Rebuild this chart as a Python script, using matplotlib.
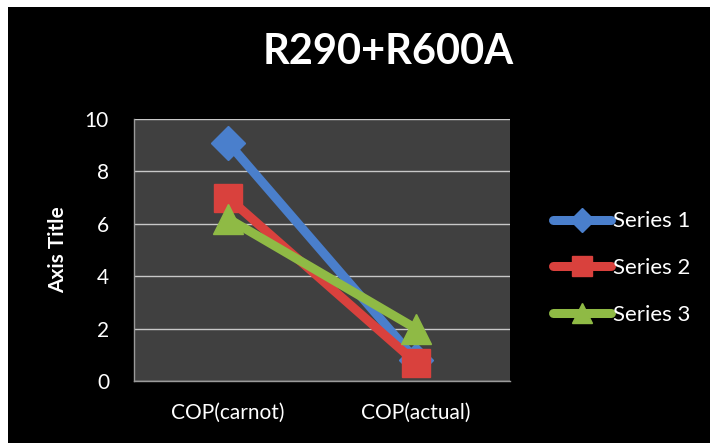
import matplotlib
matplotlib.use("Agg")
import matplotlib.pyplot as plt
from matplotlib.patches import Rectangle
from matplotlib.lines import Line2D

categories = ["COP(carnot)", "COP(actual)"]
series_names = ["Series 1", "Series 2", "Series 3"]
series1 = [9.1, 0.8]
series2 = [7.0, 0.7]
series3 = [6.2, 2.0]
title = "R290+R600A"
y_label = "Axis Title"

plt.rcParams['font.family'] = ['Lato', 'DejaVu Sans']

W, H = 710, 443
fig = plt.figure(figsize=(W / 100, H / 100), dpi=100, facecolor="white")
bg = Rectangle((8 / W, 0), 1 - 8 / W, 1 - 7 / H, transform=fig.transFigure,
               facecolor="black", edgecolor="none", zorder=-10)
fig.patches.append(bg)

ax = fig.add_axes([134 / W, 1 - 381 / H, (510 - 134) / W, (381 - 119) / H], zorder=1)
ax.set_facecolor("#404040")
for s in ax.spines.values():
    s.set_color("#9a9a9a")
    s.set_linewidth(1)
ax.spines['top'].set_visible(False)
ax.spines['right'].set_visible(False)

x = list(range(len(categories)))
styles = [
    (series1, "#4a7fcc", "D", 17),
    (series2, "#d9413d", "s", 20),
    (series3, "#8fba45", "^", 21),
]
for (vals, col, mk, ms), name in zip(styles, series_names):
    ax.plot(x, vals, color=col, lw=6.5, marker=mk, ms=ms, mfc=col, mec=col,
            label=name, solid_capstyle="round", zorder=3)

ax.set_xlim(-0.5, 1.5)
ax.set_ylim(0, 10)
ax.set_yticks(range(0, 11, 2))
ax.set_xticks(x)
ax.set_xticklabels(categories)
ax.yaxis.grid(True, color="#c8c8c8", lw=1)
ax.set_axisbelow(True)
ax.tick_params(axis="both", colors="white", labelsize=15, length=0)
ax.tick_params(axis="x", pad=16)
ax.tick_params(axis="y", pad=18)
ax.set_ylabel(y_label, color="white", fontsize=15, fontweight="bold", labelpad=12)

fig.text(388 / W, 1 - 52 / H, title, color="white", fontsize=30, fontweight="bold",
         ha="center", va="center")

handles = [Line2D([0], [0], color=c, lw=6.5, marker=m, ms=ms * 0.7, mfc=c, mec=c,
                  solid_capstyle="round")
           for (_, c, m, ms) in styles]
leg = fig.legend(handles, series_names, loc="center left", bbox_to_anchor=(533 / W, 1 - 268 / H),
                 frameon=False, fontsize=16, labelcolor="white", handlelength=2.6,
                 handletextpad=0.1, labelspacing=1.2)

fig.savefig("out.png", dpi=100, facecolor=fig.get_facecolor())
